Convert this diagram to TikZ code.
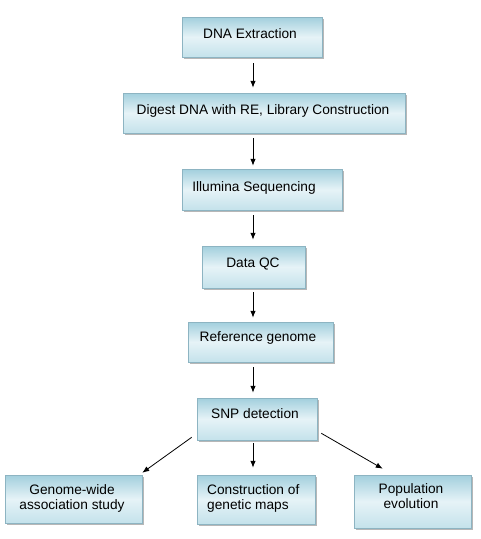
\documentclass[tikz,border=0pt]{standalone}
\usepackage{fontspec}
\setmainfont{Liberation Sans}
\usetikzlibrary{arrows.meta,shadows}
\definecolor{boxdark}{HTML}{A2CFDD}
\definecolor{boxlight}{HTML}{E6F3F7}
\definecolor{boxmid}{HTML}{C4E2EB}
\definecolor{boxborder}{HTML}{8DB4C2}
\tikzset{
  flowbox/.style={rectangle, draw=boxborder, line width=0.5pt, inner sep=0pt,
    top color=boxdark, bottom color=boxmid, middle color=boxlight,
    drop shadow={shadow xshift=2pt, shadow yshift=-2pt, fill=black!35, opacity=0.8}},
  lbl/.style={font=\fontsize{13.7}{15}\selectfont, inner sep=0pt, anchor=base},
  arr/.style={-{Latex[length=7pt,width=5.5pt]}, line width=0.8pt, black},
}
\begin{document}
\begin{tikzpicture}[x=1pt,y=-1pt]
\useasboundingbox (0,0) rectangle (481,539);
\fill[white] (0,0) rectangle (481,539);
% boxes
\node[flowbox, minimum width=140pt, minimum height=40pt] (dna) at (252,37) {};
\node[flowbox, minimum width=282pt, minimum height=40pt] (dig) at (264,113) {};
\node[flowbox, minimum width=160pt, minimum height=41pt] (ill) at (262,189.5) {};
\node[flowbox, minimum width=103pt, minimum height=42pt] (qc) at (253.5,267) {};
\node[flowbox, minimum width=145pt, minimum height=40pt] (ref) at (260.5,342) {};
\node[flowbox, minimum width=120pt, minimum height=42pt] (snp) at (257,419) {};
\node[flowbox, minimum width=137pt, minimum height=48pt] (gw) at (73.5,499) {};
\node[flowbox, minimum width=118pt, minimum height=49pt] (con) at (256,499.5) {};
\node[flowbox, minimum width=117pt, minimum height=53pt] (pop) at (412.5,501.5) {};
% labels
\node[lbl] (tdna) at (250,38) {DNA Extraction};
\node[lbl] (tdig) at (263,114) {Digest DNA with RE, Library Construction};
\node[lbl] (till) at (254,191) {Illumina Sequencing};
\node[lbl] (tqc) at (253,267.3) {Data QC};
\node[lbl] (tref) at (258,341) {Reference genome};
\node[lbl] (tsnp) at (255,418) {SNP detection};
\node[lbl, align=center] (tgw) at (72,509) {Genome-wide\\association study};
\node[lbl, align=left, anchor=base west] (tcon) at (207,509) {Construction of\\genetic maps};
\node[lbl, align=center] (tpop) at (411,508) {Population\\evolution};
% connectors
\coordinate (ax) at (253,0);
\draw[arr, shorten <=6pt, shorten >=5pt] (dna.south -| ax) -- (dig.north -| ax);
\draw[arr, shorten <=5pt, shorten >=3pt] (dig.south -| ax) -- (ill.north -| ax);
\draw[arr, shorten <=5pt, shorten >=6pt] (ill.south -| ax) -- (qc.north -| ax);
\draw[arr, shorten <=4pt, shorten >=4pt] (qc.south -| ax) -- (ref.north -| ax);
\draw[arr, shorten <=5pt, shorten >=5pt] (ref.south -| ax) -- (snp.north -| ax);
\draw[arr, shorten <=3pt, shorten >=7pt] (snp.south -| ax) -- (con.north -| ax);
\draw[arr] ([shift={(-5,-3)}]snp.south west) -- ([shift={(0,-2)}]gw.north east);
\draw[arr] ([shift={(4,-7)}]snp.south east) -- ([shift={(29,-6)}]pop.north west);
\end{tikzpicture}
\end{document}
